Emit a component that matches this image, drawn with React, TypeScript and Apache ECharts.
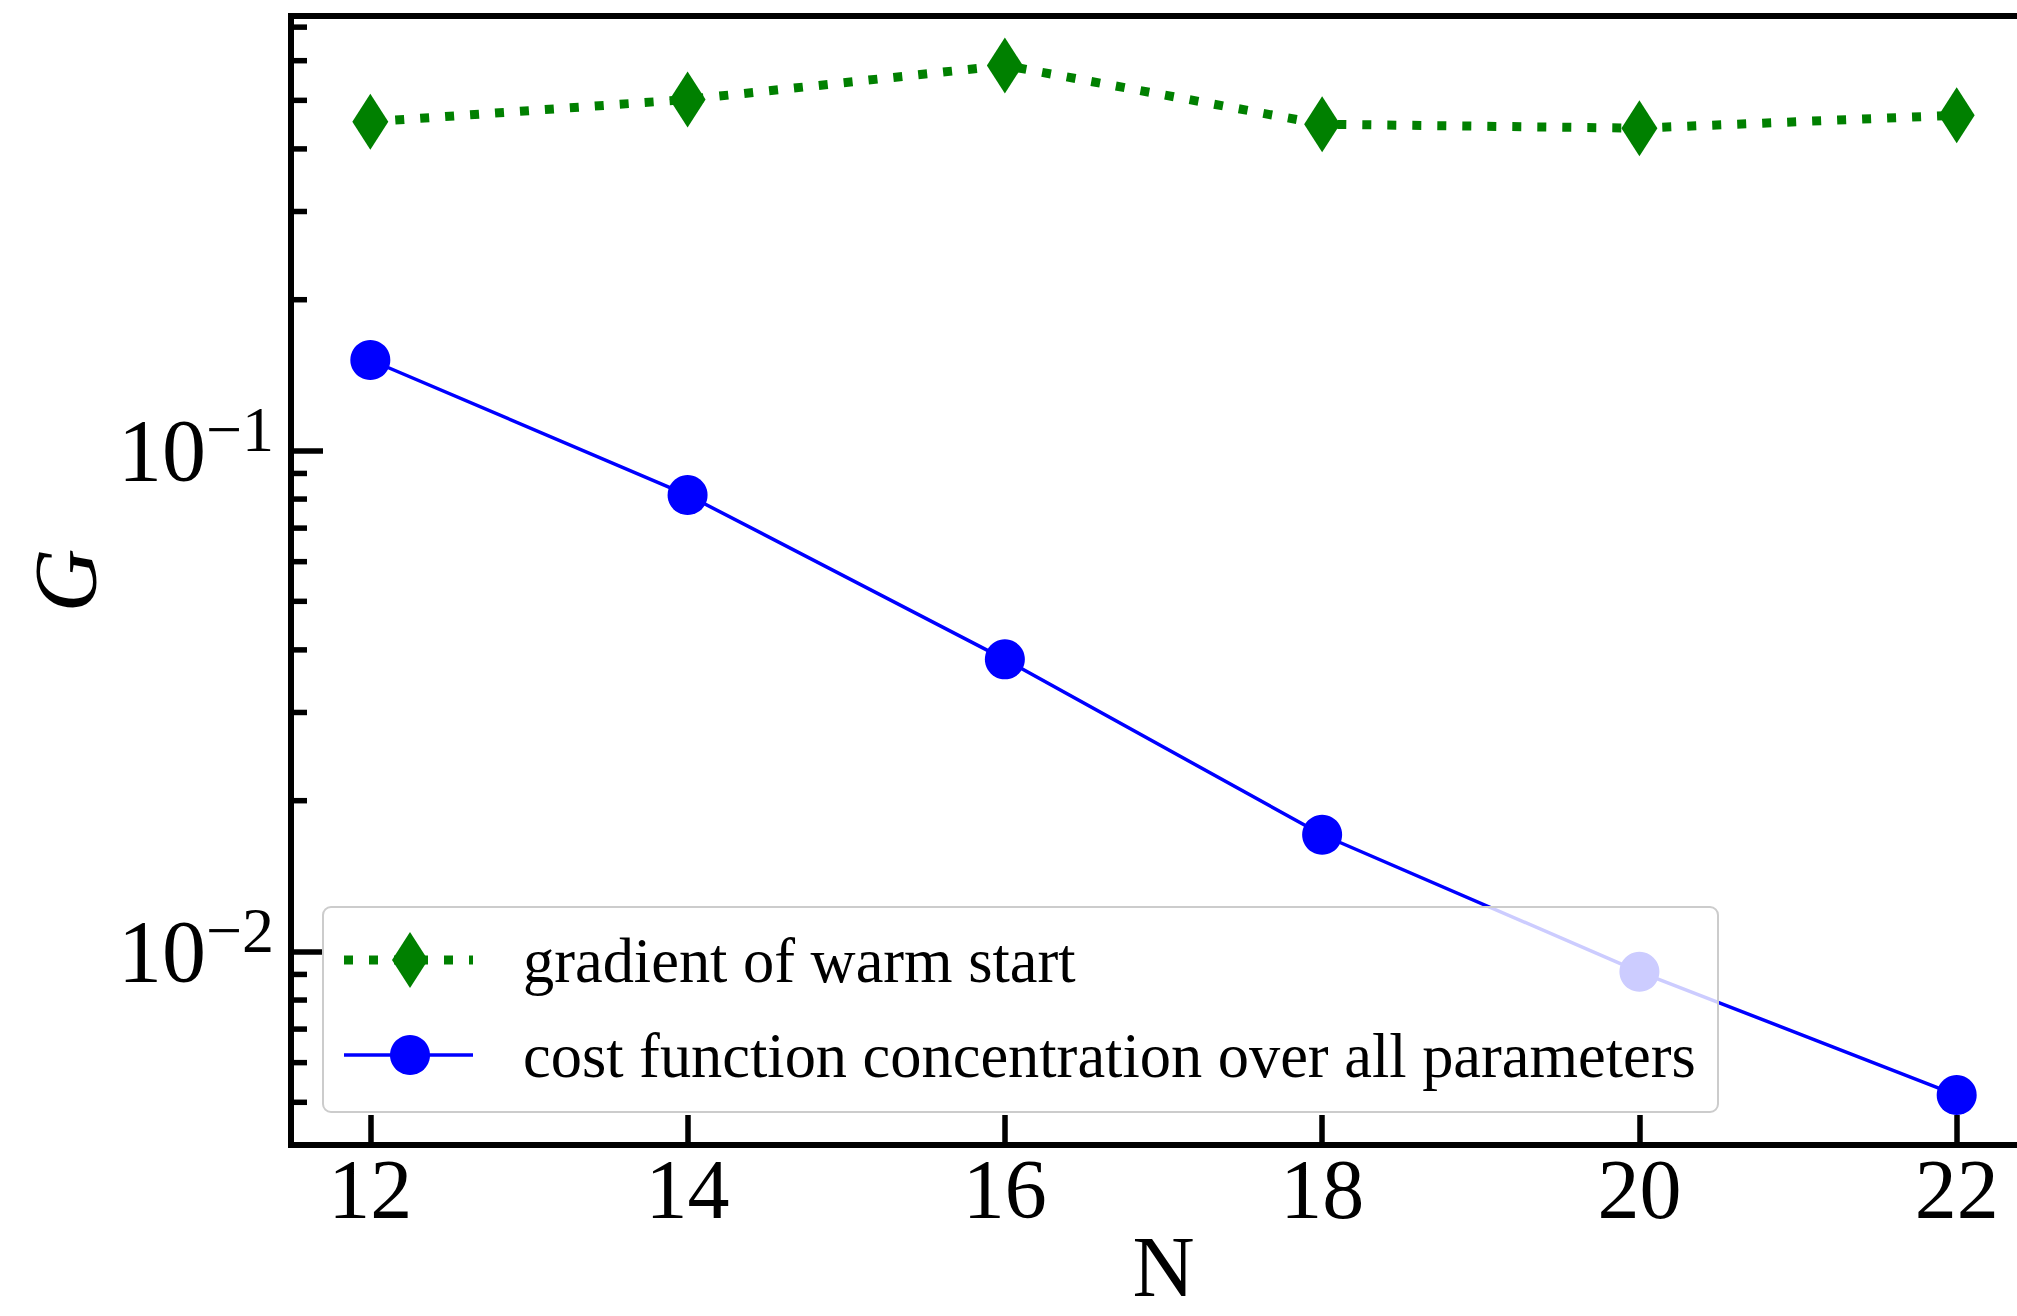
import React, { useEffect, useRef } from "react";
import * as echarts from "echarts";

// ---- data ----
const nValues = [12, 14, 16, 18, 20, 22];
const gradientWarmStart = [0.453, 0.502, 0.587, 0.448, 0.44, 0.467];
const costConcentration = [0.1516, 0.0815, 0.0383, 0.0171, 0.00911, 0.00517];
const xTicks = [12, 14, 16, 18, 20, 22];
const yMinorTicks = [
  0.005, 0.006, 0.007, 0.008, 0.009,
  0.02, 0.03, 0.04, 0.05, 0.06, 0.07, 0.08, 0.09,
  0.2, 0.3, 0.4, 0.5, 0.6, 0.7,
];
const seriesNames = [
  "gradient of warm start",
  "cost function concentration over all parameters",
];
const xLimits = [11.5, 22.5];
const yLimits = [0.004109, 0.7368];

const FONT = "Liberation Serif";
const GREEN = "#008000";
const BLUE = "#0000ff";

export default function App() {
  const ref = useRef<HTMLDivElement>(null);

  useEffect(() => {
    document.body.style.margin = "0";
    if (!ref.current) return;
    const chart = echarts.init(ref.current, undefined, { renderer: "svg" });

    const gridLeft = 291;
    const gridTop = 16;
    const gridWidth = 1745;
    const gridHeight = 1129;

    // legend geometry (not data)
    const lgX = 323;
    const lgY = 907;
    const row1 = 960;
    const row2 = 1055;
    const handleX1 = 344;
    const handleX2 = 473;
    const markerX = 410;
    const textX = 523;

    const option: any = {
      animation: false,
      backgroundColor: "#ffffff",
      grid: {
        left: gridLeft,
        top: gridTop,
        width: gridWidth,
        height: gridHeight,
        show: true,
        borderColor: "#000",
        borderWidth: 6,
        backgroundColor: "transparent",
        containLabel: false,
        outerBoundsMode: "none",
      },
      xAxis: {
        type: "value",
        min: xLimits[0],
        max: xLimits[1],
        axisLine: { show: false },
        splitLine: { show: false },
        axisTick: {
          show: true,
          inside: true,
          length: 30,
          customValues: xTicks,
          lineStyle: { color: "#000", width: 5.5 },
        },
        axisLabel: {
          customValues: xTicks,
          formatter: (v: number) =>
            Math.abs(v - Math.round(v)) < 1e-9 ? String(Math.round(v)) : "",
          margin: 14,
          fontSize: 84,
          lineHeight: 60,
          fontFamily: FONT,
          color: "#000",
        },
        name: "N",
        nameLocation: "middle",
        nameGap: 87,
        nameMoveOverlap: false,
        nameTextStyle: {
          fontSize: 86,
          lineHeight: 70,
          fontFamily: FONT,
          color: "#000",
        },
      },
      yAxis: {
        type: "log",
        logBase: 10,
        min: yLimits[0],
        max: yLimits[1],
        axisLine: { show: false },
        splitLine: { show: false },
        minorTick: { show: false },
        axisTick: {
          show: true,
          inside: true,
          length: 32,
          lineStyle: { color: "#000", width: 5.5 },
        },
        axisLabel: {
          margin: 17,
          formatter: (v: number) => {
            const e = Math.log10(v);
            const r = Math.round(e);
            if (Math.abs(e - r) > 1e-6) return "";
            return "{b|10}{s|\u2212" + String(-r) + "}";
          },
          rich: {
            b: {
              fontSize: 88,
              lineHeight: 88,
              fontFamily: FONT,
              color: "#000",
              verticalAlign: "bottom",
            },
            s: {
              fontSize: 64,
              lineHeight: 64,
              fontFamily: FONT,
              color: "#000",
              verticalAlign: "bottom",
              padding: [0, 0, 33, 0],
            },
          },
        },
        name: "G",
        nameLocation: "middle",
        nameGap: 182,
        nameMoveOverlap: false,
        nameTextStyle: {
          fontSize: 88,
          lineHeight: 88,
          fontFamily: FONT,
          fontStyle: "italic",
          color: "#000",
        },
      },
      series: [
        {
          name: seriesNames[0],
          type: "line",
          data: nValues.map((n, i) => [n, gradientWarmStart[i]]),
          symbol: "diamond",
          symbolSize: [36, 56],
          itemStyle: { color: GREEN },
          lineStyle: { color: GREEN, width: 9, type: [9, 16], cap: "butt" },
          z: 3,
        },
        {
          name: seriesNames[1],
          type: "line",
          data: nValues.map((n, i) => [n, costConcentration[i]]),
          symbol: "circle",
          symbolSize: 40,
          itemStyle: { color: BLUE },
          lineStyle: { color: BLUE, width: 3.5 },
          z: 3,
        },
        {
          name: "minor ticks",
          type: "custom",
          silent: true,
          clip: false,
          z: 4,
          data: yMinorTicks.map((v) => [xLimits[0], v]),
          renderItem: (params: any, api: any) => {
            const p = api.coord([api.value(0), api.value(1)]);
            return {
              type: "line",
              shape: { x1: p[0], y1: p[1], x2: p[0] + 16, y2: p[1] },
              style: { stroke: "#000", lineWidth: 5.5 },
            };
          },
        },
      ],
      graphic: [
        {
          type: "rect",
          z: 100,
          shape: { x: lgX, y: lgY, width: 1395, height: 205, r: 8 },
          style: {
            fill: "rgba(255,255,255,0.8)",
            stroke: "#cccccc",
            lineWidth: 2,
          },
        },
        {
          type: "line",
          z: 101,
          shape: { x1: handleX1, y1: row1, x2: handleX2, y2: row1 },
          style: { stroke: GREEN, lineWidth: 9, lineDash: [9, 16] },
        },
        {
          type: "polygon",
          z: 102,
          shape: {
            points: [
              [markerX, row1 - 28],
              [markerX + 18, row1],
              [markerX, row1 + 28],
              [markerX - 18, row1],
            ],
          },
          style: { fill: GREEN },
        },
        {
          type: "text",
          z: 102,
          x: textX,
          y: row1,
          style: {
            text: seriesNames[0],
            fontSize: 62.4,
            fontFamily: FONT,
            fill: "#000",
            align: "left",
            verticalAlign: "middle",
          },
        },
        {
          type: "line",
          z: 101,
          shape: { x1: handleX1, y1: row2, x2: handleX2, y2: row2 },
          style: { stroke: BLUE, lineWidth: 3.5 },
        },
        {
          type: "circle",
          z: 102,
          shape: { cx: markerX, cy: row2, r: 20 },
          style: { fill: BLUE },
        },
        {
          type: "text",
          z: 102,
          x: textX,
          y: row2,
          style: {
            text: seriesNames[1],
            fontSize: 62.4,
            fontFamily: FONT,
            fill: "#000",
            align: "left",
            verticalAlign: "middle",
          },
        },
      ],
    };

    chart.setOption(option);
    return () => {
      chart.dispose();
    };
  }, []);

  return (
    <div
      ref={ref}
      style={{ position: "absolute", left: 0, top: 0, width: 2017, height: 1316 }}
    />
  );
}
